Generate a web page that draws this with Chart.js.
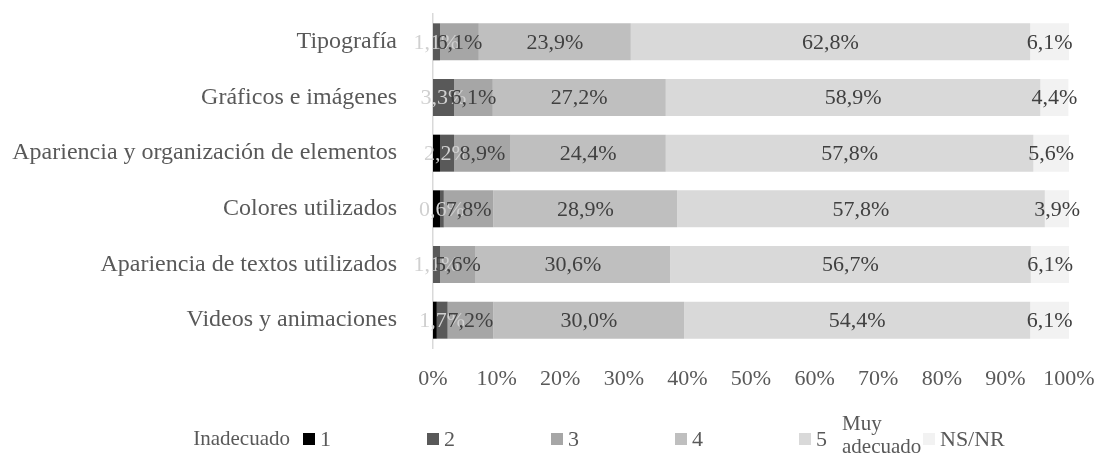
<!DOCTYPE html>
<html>
<head>
<meta charset="utf-8">
<script src="https://cdn.jsdelivr.net/npm/chart.js@4/dist/chart.umd.min.js"></script>
<style>
    html, body { margin: 0; padding: 0; background: #fff; }
    #wrap { width: 1098px; height: 457px; }
</style>
</head>
<body>
<div id="wrap"><canvas id="valoracion"></canvas></div>
<script>
// Valoración del diseño (porcentajes por aspecto)
const categorias = [
    "Tipografía",
    "Gráficos e imágenes",
    "Apariencia y organización de elementos",
    "Colores utilizados",
    "Apariencia de textos utilizados",
    "Videos y animaciones"
];
const nivel1 = [0, 0, 1.1, 1.1, 0, 0.6];
const nivel2 = [1.1, 3.3, 2.2, 0.6, 1.1, 1.7];
const nivel3 = [6.1, 6.1, 8.9, 7.8, 5.6, 7.2];
const nivel4 = [23.9, 27.2, 24.4, 28.9, 30.6, 30.0];
const nivel5 = [62.8, 58.9, 57.8, 57.8, 56.7, 54.4];
const nsnr = [6.1, 4.4, 5.6, 3.9, 6.1, 6.1];
const ticksX = [0, 10, 20, 30, 40, 50, 60, 70, 80, 90, 100];

const fuente = "'Liberation Serif', 'Times New Roman', serif";
const gris = "#595959";

const pct = v => v.toFixed(1).replace(".", ",") + "%";

// etiquetas de valor centradas en cada tramo (la serie 1 no lleva etiqueta)
const etiquetas = {
    id: "etiquetas",
    afterDatasetsDraw(chart) {
        const ctx = chart.ctx;
        ctx.save();
        ctx.font = "22px " + fuente;
        ctx.textAlign = "center";
        ctx.textBaseline = "middle";
        chart.data.datasets.forEach((ds, i) => {
            if (i === 0) return;
            ctx.fillStyle = i === 1 ? "#d0d0d0" : "#404040";
            chart.getDatasetMeta(i).data.forEach((bar, j) => {
                const v = ds.data[j];
                if (!v) return;
                ctx.fillText(pct(v), (bar.x + bar.base) / 2, bar.y + 1);
            });
        });
        ctx.restore();
    }
};

// leyenda inferior con los extremos de la escala
const leyenda = {
    id: "leyenda",
    afterDraw(chart) {
        const ctx = chart.ctx;
        const y = 439;
        ctx.save();
        ctx.textBaseline = "middle";
        chart.data.datasets.forEach((ds, i) => {
            const x = 303 + i * 124;
            ctx.fillStyle = ds.backgroundColor;
            ctx.fillRect(x, y - 6, 12, 12);
            ctx.fillStyle = gris;
            ctx.font = "22px " + fuente;
            ctx.textAlign = "left";
            ctx.fillText(ds.label, x + 17, y + 1);
        });
        ctx.font = "21px " + fuente;
        ctx.textAlign = "right";
        ctx.fillText("Inadecuado", 290, y);
        ctx.textAlign = "left";
        ctx.textBaseline = "alphabetic";
        ctx.fillText("Muy", 842, 430);
        ctx.fillText("adecuado", 842, 453);
        ctx.restore();
    }
};

const series = [
    ["1", nivel1, "#000000"],
    ["2", nivel2, "#595959"],
    ["3", nivel3, "#a6a6a6"],
    ["4", nivel4, "#bfbfbf"],
    ["5", nivel5, "#d9d9d9"],
    ["NS/NR", nsnr, "#f2f2f2"]
];

const graphValoracion = new Chart(document.getElementById("valoracion"), {
    type: "bar",
    data: {
        labels: categorias,
        datasets: series.map(([label, data, color]) => ({
            label: label,
            data: data,
            backgroundColor: color,
            borderWidth: 0,
            categoryPercentage: 1,
            barPercentage: 0.665
        }))
    },
    options: {
        indexAxis: "y",
        responsive: true,
        maintainAspectRatio: false,
        animation: false,
        layout: { padding: { top: 14, right: 29, bottom: 59, left: 0 } },
        plugins: {
            legend: { display: false },
            tooltip: { enabled: false }
        },
        scales: {
            x: {
                stacked: true,
                min: 0,
                max: 100,
                afterBuildTicks: s => { s.ticks = ticksX.map(v => ({ value: v })); },
                afterFit: s => {
                    s.height = 50;
                    s.paddingLeft = 0;
                    s.paddingRight = 0;
                },
                grid: { display: false },
                border: { display: false },
                ticks: {
                    padding: 10,
                    color: gris,
                    font: { family: fuente, size: 22 },
                    maxRotation: 0,
                    callback: v => v + "%"
                }
            },
            y: {
                stacked: true,
                afterFit: s => {
                    s.width = 433;
                    s.paddingTop = 0;
                    s.paddingBottom = 0;
                },
                grid: { display: true, drawOnChartArea: false, drawTicks: false },
                border: { display: true, color: "#d9d9d9", width: 1.5 },
                ticks: {
                    padding: 36,
                    color: gris,
                    font: { family: fuente, size: 24 }
                }
            }
        }
    },
    plugins: [etiquetas, leyenda]
});
</script>
</body>
</html>
